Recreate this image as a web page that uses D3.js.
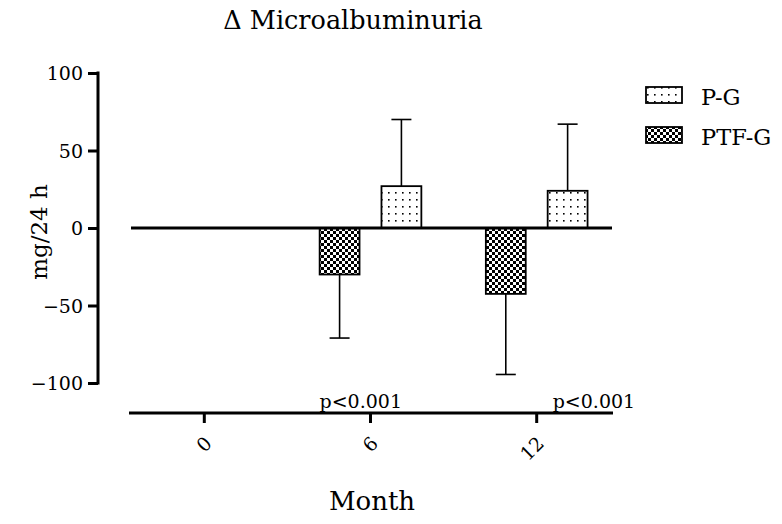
<!DOCTYPE html>
<html><head><meta charset="utf-8">
<script src="https://cdn.jsdelivr.net/npm/d3@7"></script>
<style>body{margin:0;background:#fff}svg{display:block}text{font-family:"DejaVu Serif",serif;fill:#000}</style>
</head><body>
<svg id="c" width="782" height="524"></svg>
<script>
const months = ["0", "6", "12"];
const pgMean = [0, 27, 24];
const pgSD = [0, 43, 43];
const ptfMean = [0, -30, -42.5];
const ptfSD = [0, 41, 52];
const yTicks = [-100, -50, 0, 50, 100];
const seriesNames = ["P-G", "PTF-G"];
const pLabels = [{m: "6", t: "p<0.001"}, {m: "12", t: "p<0.001"}];

const svg = d3.select("#c");
const defs = svg.append("defs");
const pd = defs.append("pattern").attr("id", "dots").attr("patternUnits", "userSpaceOnUse")
  .attr("width", 7).attr("height", 7);
pd.append("rect").attr("width", 7).attr("height", 7).attr("fill", "#fff");
pd.append("rect").attr("x", 3).attr("y", 3).attr("width", 1.6).attr("height", 1.6).attr("fill", "#000");
const pc = defs.append("pattern").attr("id", "check").attr("patternUnits", "userSpaceOnUse")
  .attr("width", 6).attr("height", 6);
pc.append("rect").attr("width", 6).attr("height", 6).attr("fill", "#fff");
pc.append("rect").attr("width", 3).attr("height", 3).attr("fill", "#000");
pc.append("rect").attr("x", 3).attr("y", 3).attr("width", 3).attr("height", 3).attr("fill", "#000");

const y = d3.scaleLinear().domain([-100, 100]).range([383, 73]);
const x = d3.scaleBand().domain(months).range([121.2, 619.8]).padding(0);
const bw = x.bandwidth();
const barW = bw * 0.24, gap = bw * 0.066;

svg.append("text").attr("x", 353).attr("y", 29).attr("text-anchor", "middle")
  .style("font-size", "25.5px").text("Δ Microalbuminuria");

const yAxis = d3.axisLeft(y).tickValues(yTicks).tickSize(10).tickPadding(5)
  .tickFormat(d => d < 0 ? "\u2212" + Math.abs(d) : d);
const gy = svg.append("g").attr("transform", "translate(98,0)").call(yAxis);
gy.select(".domain").attr("stroke", "#000").attr("stroke-width", 3).attr("d", `M0,${y(100)-1.5}V${y(-100)+1.5}`);
gy.selectAll(".tick line").attr("stroke", "#000").attr("stroke-width", 3);
gy.selectAll(".tick text").style("font-size", "19px").attr("dy", "0.36em");

svg.append("text").attr("transform", `translate(47,${y(0) + 4}) rotate(-90)`).attr("text-anchor", "middle")
  .style("font-size", "23px").text("mg/24 h");

const data = months.map((m, i) => ({m, pg: pgMean[i], pgE: pgSD[i], ptf: ptfMean[i], ptfE: ptfSD[i]}));
const g = svg.append("g");
data.forEach(d => {
  const c = x(d.m) + bw / 2;
  if (d.ptf !== 0) {
    const x0 = c - gap - barW;
    g.append("line").attr("x1", x0 + barW/2).attr("x2", x0 + barW/2)
      .attr("y1", y(d.ptf)).attr("y2", y(d.ptf - d.ptfE)).attr("stroke", "#000").attr("stroke-width", 1.6);
    g.append("line").attr("x1", x0 + barW/2 - 10).attr("x2", x0 + barW/2 + 10)
      .attr("y1", y(d.ptf - d.ptfE)).attr("y2", y(d.ptf - d.ptfE)).attr("stroke", "#000").attr("stroke-width", 1.6);
    g.append("rect").attr("x", x0).attr("width", barW).attr("y", y(0)).attr("height", y(d.ptf) - y(0))
      .attr("fill", "url(#check)").attr("stroke", "#000").attr("stroke-width", 1.8);
  }
  if (d.pg !== 0) {
    const x1 = c + gap;
    g.append("line").attr("x1", x1 + barW/2).attr("x2", x1 + barW/2)
      .attr("y1", y(d.pg)).attr("y2", y(d.pg + d.pgE)).attr("stroke", "#000").attr("stroke-width", 1.6);
    g.append("line").attr("x1", x1 + barW/2 - 10).attr("x2", x1 + barW/2 + 10)
      .attr("y1", y(d.pg + d.pgE)).attr("y2", y(d.pg + d.pgE)).attr("stroke", "#000").attr("stroke-width", 1.6);
    g.append("rect").attr("x", x1).attr("width", barW).attr("y", y(d.pg)).attr("height", y(0) - y(d.pg))
      .attr("fill", "url(#dots)").attr("stroke", "#000").attr("stroke-width", 1.8);
  }
});

svg.append("line").attr("x1", 131).attr("x2", 612).attr("y1", y(0)).attr("y2", y(0))
  .attr("stroke", "#000").attr("stroke-width", 3);

const xAxis = d3.axisBottom(x).tickSize(10).tickPadding(10);
const gx = svg.append("g").attr("transform", "translate(0,413)").call(xAxis);
gx.select(".domain").attr("stroke", "#000").attr("stroke-width", 3).attr("d", "M129,0H613");
gx.selectAll(".tick line").attr("stroke", "#000").attr("stroke-width", 3);
gx.selectAll(".tick text").style("font-size", "19px").attr("text-anchor", "end")
  .attr("transform", "translate(4,27) rotate(-45)").attr("y", 0).attr("dy", "0.35em");

const pOffsets = [-51, 16];
pLabels.forEach((p, i) => {
  svg.append("text").attr("x", x(p.m) + bw / 2 + pOffsets[i]).attr("y", 408)
    .style("font-size", "19px").text(p.t);
});

svg.append("text").attr("x", 372).attr("y", 510).attr("text-anchor", "middle")
  .style("font-size", "26px").text("Month");

const leg = svg.append("g");
seriesNames.forEach((s, i) => {
  const yy = 87 + i * 40;
  leg.append("rect").attr("x", 646).attr("y", yy).attr("width", 36).attr("height", 16)
    .attr("fill", i === 0 ? "url(#dots)" : "url(#check)").attr("stroke", "#000").attr("stroke-width", 1.8);
  leg.append("text").attr("x", 701).attr("y", yy + 18).style("font-size", "22.5px").text(s);
});
</script>
</body></html>
